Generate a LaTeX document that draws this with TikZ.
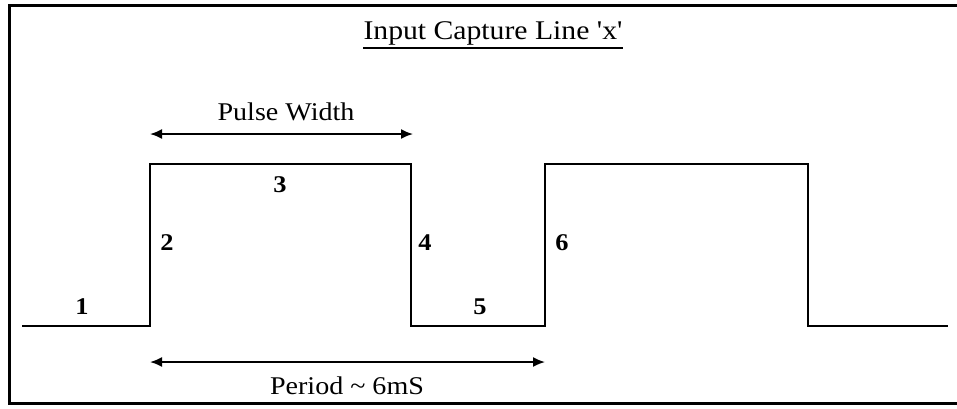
\documentclass[tikz,border=0pt]{standalone}
\usepackage{fontspec}
\setmainfont{Liberation Serif}[Ligatures=TeXOff, FakeStretch=1.1]
\usetikzlibrary{arrows.meta}
\begin{document}
\begin{tikzpicture}[x=1pt,y=-1pt,
  wave/.style={line width=2pt, line join=miter},
  dim/.style={line width=1.8pt, {Latex[length=12pt,width=10pt]}-{Latex[length=12pt,width=10pt]}},
  lbl/.style={font=\fontsize{24}{26}\selectfont\bfseries, inner sep=0pt},
  txt/.style={font=\fontsize{25.5}{28}\selectfont, inner sep=0pt},
  frame/.style={line width=3pt}]
\useasboundingbox (0,0) rectangle (957,408);
% frame
\draw[frame] (957,5) -- (9,5) -- (9,403) -- (957,403);
% waveform corners
\coordinate (w0) at (22,326);
\coordinate (w1) at (150,326);
\coordinate (w2) at (150,164);
\coordinate (w3) at (411,164);
\coordinate (w4) at (411,326);
\coordinate (w5) at (545,326);
\coordinate (w6) at (545,164);
\coordinate (w7) at (808,164);
\coordinate (w8) at (808,326);
\coordinate (w9) at (948,326);
\draw[wave] (w0) -- (w1) -- (w2) -- (w3) -- (w4) -- (w5) -- (w6) -- (w7) -- (w8) -- (w9);
% title
\node[txt, anchor=base, font=\fontsize{27}{30}\selectfont] (title) at (493,39.5) {Input Capture Line 'x'};
\draw[line width=2pt] ([yshift=-8pt]title.base west) -- ([yshift=-8pt]title.base east);
% pulse width
\coordinate (pa) at (150,134);
\coordinate (pb) at (413,134);
\draw[dim] (pa) -- (pb);
\node[txt, anchor=base] (pw) at (286,120.5) {Pulse Width};
% period
\coordinate (qa) at (150,362);
\coordinate (qb) at (545,362);
\draw[dim] (qa) -- (qb);
\node[txt, anchor=base] (per) at (347,394) {Period \textasciitilde{} 6mS};
% labels
\node[lbl] (n1) at (82,307) {1};
\node[lbl] (n2) at (167,243) {2};
\node[lbl] (n3) at (280,185) {3};
\node[lbl] (n4) at (425,243) {4};
\node[lbl] (n5) at (480,307) {5};
\node[lbl] (n6) at (562,243) {6};
\end{tikzpicture}
\end{document}
